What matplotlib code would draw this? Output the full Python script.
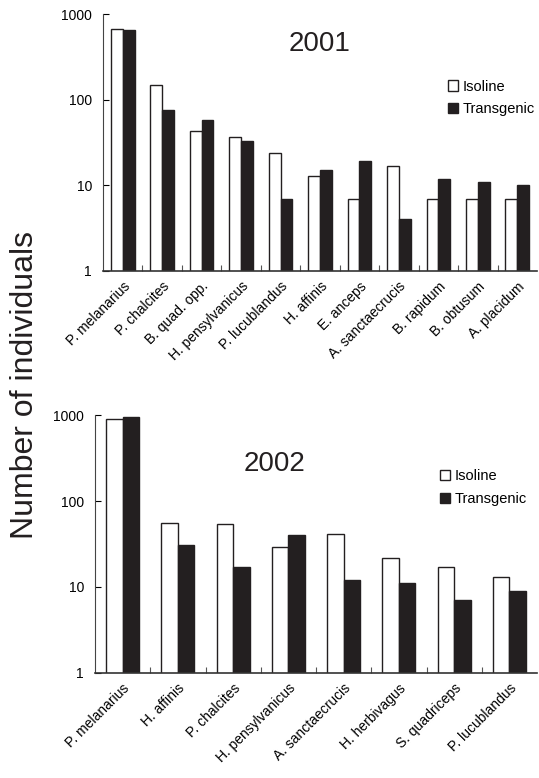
import numpy as np
import matplotlib.pyplot as plt
from matplotlib.ticker import FixedLocator, NullFormatter, NullLocator

plt.rcParams['font.family'] = ['Liberation Sans', 'DejaVu Sans']

# 2001 catches
species_2001 = ['P. melanarius', 'P. chalcites', 'B. quad. opp.', 'H. pensylvanicus',
                'P. lucublandus', 'H. affinis', 'E. anceps', 'A. sanctaecrucis',
                'B. rapidum', 'B. obtusum', 'A. placidum']
isoline_2001 = [667, 150, 43, 37, 24, 13, 7, 17, 7, 7, 7]
transgenic_2001 = [650, 75, 58, 33, 7, 15, 19, 4, 12, 11, 10]

# 2002 catches
species_2002 = ['P. melanarius', 'H. affinis', 'P. chalcites', 'H. pensylvanicus',
                'A. sanctaecrucis', 'H. herbivagus', 'S. quadriceps', 'P. lucublandus']
isoline_2002 = [900, 56, 54, 29, 41, 22, 17, 13]
transgenic_2002 = [940, 31, 17, 40, 12, 11, 7, 9]

dark = '#231f20'
W, H = 539, 778
fig = plt.figure(figsize=(W / 100, H / 100), dpi=100)


def panel(rect, names, iso, trans, year, year_xy, leg_xy):
    ax = fig.add_axes(rect)
    x = np.arange(len(names))
    w = 0.3
    ax.bar(x - w / 2, iso, w, color='white', edgecolor=dark, linewidth=1.0,
           label='Isoline', zorder=2)
    ax.bar(x + w / 2, trans, w, color=dark, edgecolor=dark, linewidth=1.0,
           label='Transgenic', zorder=2)
    ax.set_yscale('log')
    ax.set_ylim(1, 1000)
    ax.set_xlim(-0.5, len(names) - 0.5)
    ax.yaxis.set_major_locator(FixedLocator([1, 10, 100, 1000]))
    ax.yaxis.set_minor_locator(NullLocator())
    ax.set_yticklabels(['1', '10', '100', '1000'])
    # ticks sit between species, labels under each pair
    ax.xaxis.set_major_locator(FixedLocator(x[1:] - 0.5))
    ax.xaxis.set_major_formatter(NullFormatter())
    ax.set_xticks(x, minor=True)
    ax.set_xticklabels(names, minor=True, rotation=45, ha='right',
                       rotation_mode='anchor', fontsize=10)
    ax.tick_params(axis='x', which='major', direction='in', length=4, color='#555555')
    ax.tick_params(axis='x', which='minor', length=0, pad=6)
    ax.tick_params(axis='y', direction='in', length=4, labelsize=10, pad=8)
    for s in ('top', 'right'):
        ax.spines[s].set_visible(False)
    ax.spines['left'].set_color('#444444')
    ax.spines['bottom'].set_color('#333333')
    ax.spines['bottom'].set_linewidth(1.2)
    ax.text(year_xy[0], year_xy[1], year, transform=ax.transAxes, ha='center',
            va='center', fontsize=20, color=dark)
    ax.legend(loc='upper left', bbox_to_anchor=leg_xy, frameon=False, fontsize=10.5,
              handlelength=0.7, handleheight=0.7, handletextpad=0.3,
              labelspacing=0.6, borderpad=0, borderaxespad=0)
    return ax


panel([103 / W, 1 - 271 / H, 434 / W, 257 / H], species_2001,
      isoline_2001, transgenic_2001, '2001', (0.5, 0.885), (0.795, 0.745))
panel([95 / W, 1 - 673 / H, 442 / W, 258 / H], species_2002,
      isoline_2002, transgenic_2002, '2002', (0.405, 0.81), (0.78, 0.79))

fig.text(25 / W, 1 - 385 / H, 'Number of individuals', rotation=90,
         ha='center', va='center', fontsize=23, color=dark)

fig.savefig('out.png', dpi=100)
